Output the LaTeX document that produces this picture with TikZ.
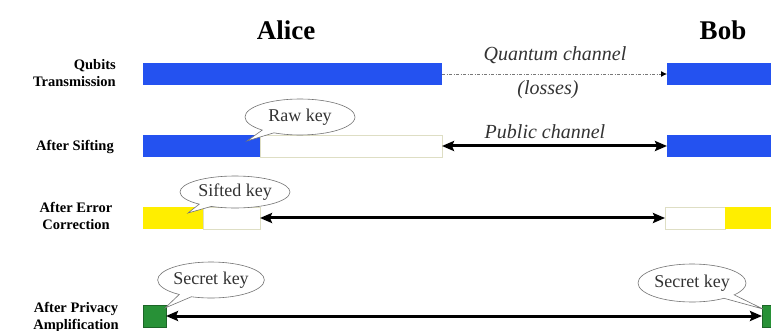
\documentclass[tikz,border=0pt]{standalone}
\usepackage{fontspec}
\setmainfont{Liberation Serif}
\usetikzlibrary{arrows.meta,shapes.callouts}
\definecolor{qblue}{RGB}{36,82,240}
\definecolor{qyellow}{RGB}{255,238,0}
\definecolor{qgreen}{RGB}{40,145,55}
\definecolor{qedge}{RGB}{222,222,196}
\definecolor{qgray}{RGB}{120,120,120}
\tikzset{
  bar/.style={inner sep=0pt, minimum height=22pt, outer sep=0pt},
  bluebar/.style={bar, fill=qblue},
  yellowbar/.style={bar, fill=qyellow},
  greenbar/.style={bar, fill=qgreen, draw=qgreen!70!black, line width=0.4pt},
  emptybar/.style={bar, fill=white, draw=qedge, line width=0.7pt},
  party/.style={font=\bfseries\fontsize{27}{30}\selectfont},
  rowlabel/.style={font=\bfseries\fontsize{14.5}{17}\selectfont, inner sep=0pt},
  chan/.style={font=\itshape\fontsize{20}{22}\selectfont, text=black!80, inner sep=0pt},
  keycall/.style={ellipse callout, draw=black!55, line width=0.6pt, fill=white,
    inner sep=0pt, font=\fontsize{18}{20}\selectfont, text=black!80},
  pubarrow/.style={line width=3pt, {Stealth[length=12pt,width=10pt,inset=2pt]}-{Stealth[length=12pt,width=10pt,inset=2pt]}},
  qarrow/.style={draw=qgray, line width=0.8pt, dash pattern=on 3pt off 1.5pt on 1pt off 1.5pt,
    -{Latex[length=6pt,width=6pt,black]}}
}
\begin{document}
\begin{tikzpicture}[x=1pt,y=-1pt]
\useasboundingbox (0,0) rectangle (771,331);
\fill[white] (0,0) rectangle (771,331);

% parties
\node[party] (alice) at (286,30) {Alice};
\node[party] (bob) at (723,30) {Bob};

% row labels
\node[rowlabel, align=right, anchor=east] (l1) at (116,73) {Qubits\\Transmission};
\node[rowlabel, anchor=east] (l2) at (114,147) {After Sifting};
\node[rowlabel, align=center] (l3) at (76,216) {After Error\\Correction};
\node[rowlabel, align=center] (l4) at (76,317) {After Privacy\\Amplification};

% row 1
\node[bluebar, minimum width=299pt] (a1) at (292.5,74) {};
\node[bluebar, minimum width=123pt] (b1) at (728.5,74) {};
% row 2
\node[bluebar, minimum width=117pt] (a2b) at (201.5,146) {};
\node[emptybar, minimum width=182pt] (a2w) at (351,146) {};
\node[bluebar, minimum width=123pt] (b2) at (728.5,146) {};
% row 3
\node[yellowbar, minimum width=60pt] (a3y) at (173,218) {};
\node[emptybar, minimum width=57pt] (a3w) at (231.5,218) {};
\node[emptybar, minimum width=60pt] (b3w) at (695,218) {};
\node[yellowbar, minimum width=65pt] (b3y) at (757.5,218) {};
% row 4
\node[greenbar, minimum width=23pt] (a4) at (154.5,316) {};
\node[greenbar, minimum width=23pt] (b4) at (773.5,316) {};

% channels
\draw[qarrow] (a1.east) -- (b1.west);
\node[chan] (qc) at (555,55) {Quantum channel};
\node[chan] (loss) at (548,90) {(losses)};
\draw[pubarrow] (a2w.east) -- (b2.west);
\node[chan] (pc) at (545,132) {Public channel};
\draw[pubarrow] (a3w.east) -- (b3w.west);
\draw[pubarrow] (a4.east) -- (b4.west);

% callouts
\coordinate (rawtip) at (247,141);
\coordinate (sifttip) at (188,213);
\coordinate (asectip) at (165,308);
\coordinate (bsectip) at (763,309);
\node[keycall, minimum width=110pt, minimum height=36pt, callout absolute pointer=(rawtip)] (raw) at (300,117) {Raw key};
\node[keycall, minimum width=110pt, minimum height=32pt, callout absolute pointer=(sifttip)] (sift) at (235,192) {Sifted key};
\node[keycall, minimum width=106pt, minimum height=36pt, callout absolute pointer=(asectip)] (asec) at (211,280) {Secret key};
\node[keycall, minimum width=108pt, minimum height=38pt, callout absolute pointer=(bsectip)] (bsec) at (692,283) {Secret key};
\end{tikzpicture}
\end{document}
